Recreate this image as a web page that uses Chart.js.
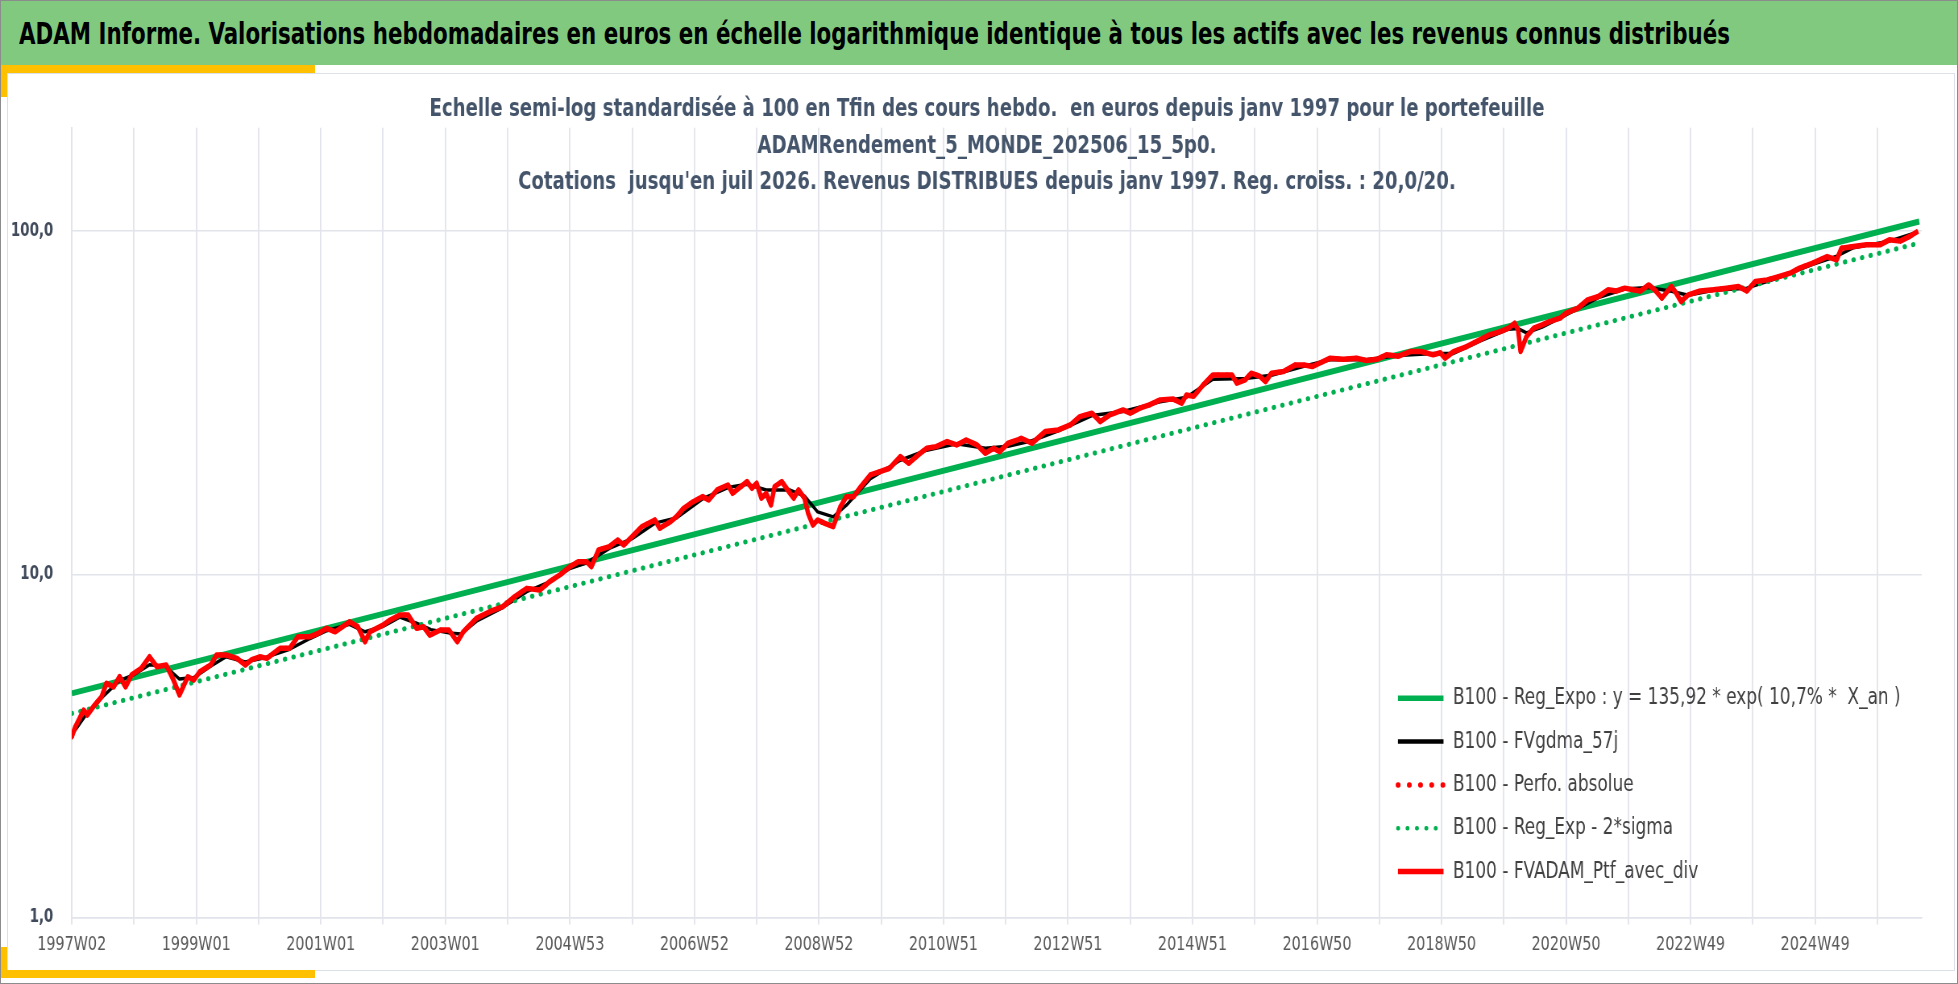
<!DOCTYPE html>
<html>
<head>
<meta charset="utf-8">
<script src="https://cdn.jsdelivr.net/npm/chart.js@4.4.1/dist/chart.umd.min.js"></script>
<style>
html,body{margin:0;padding:0;background:#fff;overflow:hidden;}
#page{position:relative;width:1958px;height:984px;overflow:hidden;background:#fff;}
#frame{position:absolute;left:7px;top:73px;width:1948px;height:898px;border:1.5px solid #DCE0E8;box-sizing:border-box;z-index:1;}
#header{position:absolute;left:0;top:0;width:1958px;height:65px;background:#80C97F;z-index:3;overflow:hidden;}
#headerText{position:absolute;left:19px;top:3px;white-space:nowrap;font-weight:bold;color:#000;transform-origin:0 0;}
.yel{position:absolute;background:#FFC000;z-index:4;}
#outer{position:absolute;left:0;top:0;width:1958px;height:984px;border:1px solid #8C8C8C;box-sizing:border-box;z-index:6;pointer-events:none;}
#cv{position:absolute;left:0;top:0;z-index:2;}
</style>
</head>
<body>
<div id="page">
  <div id="frame"></div>
  <div id="header"><div id="headerText"></div></div>
  <div class="yel" style="left:1px;top:65px;width:314px;height:8px;"></div>
  <div class="yel" style="left:1px;top:65px;width:6px;height:32px;"></div>
  <div class="yel" style="left:0;top:970px;width:315px;height:8px;"></div>
  <div class="yel" style="left:0;top:947px;width:7px;height:31px;"></div>
  <canvas id="cv"></canvas>
  <div id="outer"></div>
</div>
<script>
// ---------- DATA ----------
const headerText = "ADAM Informe. Valorisations hebdomadaires en euros en échelle logarithmique identique à tous les actifs avec les revenus connus distribués";
const titleLines = [
  "Echelle semi-log standardisée à 100 en Tfin des cours hebdo.  en euros depuis janv 1997 pour le portefeuille",
  "ADAMRendement_5_MONDE_202506_15_5p0.",
  "Cotations  jusqu'en juil 2026. Revenus DISTRIBUES depuis janv 1997. Reg. croiss. : 20,0/20."
];
const seriesLabels = [
  "B100 - Reg_Expo : y = 135,92 * exp( 10,7% *  X_an )",
  "B100 - FVgdma_57j",
  "B100 - Perfo. absolue",
  "B100 - Reg_Exp - 2*sigma",
  "B100 - FVADAM_Ptf_avec_div"
];
// category ticks: one label every 104 weeks (week index counted from 1997W02)
const xTickLabels = ["1997W02","1999W01","2001W01","2003W01","2004W53","2006W52","2008W52","2010W51","2012W51","2014W51","2016W50","2018W50","2020W50","2022W49","2024W49"];
const yTickValues = [1, 10, 100];
const yTickLabels = ["1,0", "10,0", "100,0"];

// regression lines (exponential -> straight on the log scale)
const regWeeks = [0, 1543];
const regValues = [4.50, 106.7];
const sigmaValues = [3.93, 92.3];

// portfolio with dividends (weekly index, sampled)
const redWeeks = [0,3,10,13,18,25,29,35,40,45,50,58,65,71,79,85,90,97,102,107,116,121,129,138,145,150,157,163,174,182,189,199,206,213,220,232,239,245,249,260,266,274,281,288,294,299,308,315,322,327,338,349,360,370,380,391,399,408,416,423,430,434,440,449,456,461,468,476,487,491,500,505,511,519,527,532,539,548,552,564,568,572,576,580,584,587,593,600,603,607,612,615,619,623,629,636,642,647,653,658,667,675,683,692,699,707,714,722,731,739,747,756,763,770,775,782,790,793,802,813,824,834,842,852,859,867,878,884,892,900,909,920,927,931,937,945,953,962,969,973,980,985,992,997,1002,1012,1022,1029,1036,1042,1051,1062,1073,1081,1090,1098,1108,1118,1127,1137,1143,1147,1154,1165,1176,1184,1193,1200,1205,1208,1210,1215,1221,1228,1234,1243,1248,1258,1266,1275,1283,1290,1297,1304,1310,1317,1322,1328,1336,1340,1344,1350,1360,1371,1382,1392,1399,1406,1416,1424,1435,1443,1454,1466,1474,1478,1488,1499,1510,1518,1527,1535,1542];
const redValues = [3.36,3.59,4.02,3.89,4.11,4.40,4.81,4.70,5.03,4.70,5.09,5.32,5.75,5.38,5.44,4.92,4.45,5.03,4.92,5.20,5.44,5.82,5.82,5.69,5.44,5.63,5.75,5.69,6.09,6.09,6.58,6.58,6.73,6.96,6.80,7.27,7.03,6.36,6.80,7.11,7.36,7.61,7.61,6.96,7.03,6.65,6.88,6.88,6.36,6.80,7.44,7.78,8.05,8.61,9.10,9.00,9.51,9.98,10.52,10.88,10.88,10.52,11.78,12.04,12.59,12.17,12.87,13.76,14.40,13.62,14.23,14.72,15.57,16.28,16.84,16.47,17.62,18.21,17.22,18.62,17.81,18.42,16.66,17.22,15.92,18.01,18.62,17.22,16.66,17.62,16.66,15.06,13.92,14.40,14.08,13.76,15.74,16.84,16.84,17.81,19.48,19.91,20.37,22.03,21.07,22.28,23.30,23.55,24.36,23.82,24.63,23.82,22.53,23.30,22.77,24.09,24.63,24.92,24.09,26.05,26.35,27.25,28.81,29.47,27.86,29.13,30.13,29.47,30.48,31.17,32.23,32.40,31.51,33.32,33.00,35.64,38.11,38.11,38.11,36.05,36.86,38.55,37.80,36.43,38.55,38.97,40.76,40.76,40.30,41.21,42.63,42.30,42.63,42.00,42.30,43.60,43.20,44.57,44.57,43.60,44.20,42.63,44.57,46.09,48.20,49.86,50.97,52.14,53.90,51.50,44.57,49.30,52.14,53.30,54.50,55.77,57.66,59.65,63.06,64.49,67.44,66.90,68.20,67.44,66.90,69.70,67.44,63.80,68.96,65.96,62.36,65.20,66.90,67.44,68.20,68.96,66.90,71.30,72.10,73.40,75.40,78.00,80.70,84.30,82.50,89.20,90.20,91.20,91.20,94.30,93.50,96.50,100.00];

// smoothed series (FVgdma_57j)
const blackWeeks = [0,13,26,40,52,65,78,90,102,116,129,145,160,182,199,213,232,245,260,274,288,300,315,325,338,360,380,399,416,430,449,468,487,505,527,548,564,580,600,612,623,636,647,667,692,714,739,763,782,802,824,852,878,909,931,953,980,1002,1029,1051,1081,1108,1137,1154,1176,1200,1208,1215,1228,1248,1275,1297,1317,1336,1350,1371,1399,1424,1454,1474,1488,1518,1542];
const blackValues = [3.4,3.95,4.4,4.9,5.1,5.45,5.4,4.95,5.0,5.4,5.75,5.55,5.7,6.05,6.5,6.85,7.15,6.8,7.05,7.5,7.2,6.9,6.75,6.7,7.3,8.0,8.9,9.5,10.4,10.8,11.9,12.7,14.1,14.6,16.6,17.9,18.3,17.6,17.6,16.9,15.2,14.7,15.9,19.0,21.5,23.0,24.0,23.3,23.6,24.5,26.2,29.0,29.8,31.8,32.8,37.0,37.2,38.0,40.4,42.2,42.2,43.4,44.0,44.0,47.8,51.8,52.0,50.5,52.5,57.0,64.0,67.8,68.5,66.8,65.0,67.2,68.2,72.8,80.0,84.5,89.5,93.5,99.5];

// ---------- FONTS / HORIZONTAL SQUEEZE ----------
function hasFont(name){
  const c = document.createElement('canvas').getContext('2d');
  const s = 'mmmmmmmmmmlli WWW 0123456789 abcdefg';
  c.font = '40px monospace'; const w1 = c.measureText(s).width;
  c.font = '40px "' + name + '", monospace'; const w2 = c.measureText(s).width;
  return Math.abs(w1 - w2) > 0.5;
}
const FAMILY = ['Liberation Sans Narrow','DejaVu Sans Condensed','Liberation Sans'].find(hasFont) || 'sans-serif';
const FAM = '"' + FAMILY + '", sans-serif';
const mctx = document.createElement('canvas').getContext('2d');
mctx.font = 'bold 100px ' + FAM;
const capE = mctx.measureText('E').actualBoundingBoxAscent;
const titleSize = 18.3 * 100 / capE;                        // cap height as in the picture
const SX = 1116 / (mctx.measureText(titleLines[0]).width * titleSize / 100); // horizontal squeeze
const X = v => v / SX;                                       // screen px -> canvas px
const W_INT = Math.round(1958 / SX);
function fit(text, weight, target){
  mctx.font = weight + ' 100px ' + FAM;
  return 100 * X(target) / mctx.measureText(text).width;
}
function metrics(weight, size){
  mctx.font = weight + ' ' + size + 'px ' + FAM;
  const m = mctx.measureText('Hxg');
  return {A: m.fontBoundingBoxAscent, D: m.fontBoundingBoxDescent};
}
const headerSize = fit(headerText, 'bold', 1712);
const legendSize = fit(seriesLabels[0], 'normal', 448);
const xTickSize = fit('1997W02', 'normal', 69);
const yTickSize = fit('100,0', 'bold', 42.5);

// header text
const ht = document.getElementById('headerText');
ht.textContent = headerText;
ht.style.fontFamily = FAM;
ht.style.fontSize = headerSize + 'px';
ht.style.lineHeight = headerSize + 'px';
const hm = metrics('bold', headerSize);
ht.style.top = (45 - ((headerSize - (hm.A + hm.D)) / 2 + hm.A)) + 'px';
ht.style.transform = 'scaleX(' + SX + ')';

const cv = document.getElementById('cv');
cv.width = W_INT; cv.height = 984;
cv.style.width = '1958px'; cv.style.height = '984px';

// ---------- LAYOUT CONSTANTS (screen px) ----------
const AREA_LEFT = 71.7, AREA_RIGHT = 1921.8, AREA_TOP = 127.8, AREA_BOTTOM = 917.5;
const TITLE_LH = 36.5;
const tm = metrics('bold', titleSize);
const titleMid = 118 - (tm.A - tm.D) / 2;
const titleTop = titleMid - TITLE_LH / 2;
const titleBottomPad = AREA_TOP - (titleTop + TITLE_LH * titleLines.length);
const legPad = 43.3 - legendSize;
const legBox = X(1453) - X(1398) - legendSize / 2;
const xLabPad = 945 - (AREA_BOTTOM + 7) - 0.6 * xTickSize;

const toPts = (ws, vs) => ws.map((w, i) => ({x: w, y: vs[i]}));

const placer = {
  id: 'placer',
  afterLayout(chart){
    const lg = chart.legend;
    if (lg) {
      const w = lg.width, h = lg.height;
      lg.left = X(1398) - legPad;
      lg.top = 698.3 - legPad - legendSize / 2;
      lg.right = lg.left + w;
      lg.bottom = lg.top + h;
    }
    const tb = chart.titleBlock;
    if (tb) { tb.left = 0; tb.right = 2 * X(987); }
  }
};

const GRID = '#E2E4EC';
const GREEN = '#00B050';

new Chart(cv, {
  type: 'line',
  data: {
    datasets: [
      {label: seriesLabels[0], data: toPts(regWeeks, regValues), borderColor: GREEN, backgroundColor: GREEN, borderWidth: 6, order: 4, legendWidth: 5.5},
      {label: seriesLabels[1], data: toPts(blackWeeks, blackValues), borderColor: '#000000', backgroundColor: '#000000', borderWidth: 3.5, order: 3, legendWidth: 4.5},
      {label: seriesLabels[2], data: toPts(redWeeks, redValues), borderColor: '#FF0000', backgroundColor: '#FF0000', borderWidth: 5, borderDash: [0.5, X(8.5)], borderCapStyle: 'round', order: 2, legendWidth: 5.5, legendDash: [0.5, X(10.8)]},
      {label: seriesLabels[3], data: toPts(regWeeks, sigmaValues), borderColor: GREEN, backgroundColor: GREEN, borderWidth: 5, borderDash: [0.5, X(8.3)], borderCapStyle: 'round', order: 1, legendWidth: 4.5, legendDash: [0.5, X(9)]},
      {label: seriesLabels[4], data: toPts(redWeeks, redValues), borderColor: '#FF0000', backgroundColor: '#FF0000', borderWidth: 5.5, order: 0, legendWidth: 5.5}
    ]
  },
  options: {
    responsive: false,
    animation: false,
    devicePixelRatio: 1,
    elements: {point: {radius: 0, hoverRadius: 0}, line: {tension: 0, borderJoinStyle: 'round'}},
    layout: {padding: {left: 0, right: W_INT - X(AREA_RIGHT), top: 0, bottom: 0}},
    scales: {
      x: {
        type: 'linear', min: 0, max: 1545, bounds: 'data',
        afterFit: s => { s.height = 984 - AREA_BOTTOM; },
        afterBuildTicks: s => { s.ticks = Array.from({length: 30}, (_, i) => ({value: i * 52})); },
        grid: {color: GRID, lineWidth: X(1.5), drawTicks: true, tickLength: 7, tickColor: GRID, tickWidth: X(1.5)},
        border: {color: GRID, width: 1.5},
        ticks: {
          autoSkip: false, maxRotation: 0, minRotation: 0, padding: xLabPad,
          color: '#595959', font: {family: FAM, size: xTickSize},
          callback: v => (v % 104 === 0 ? (xTickLabels[v / 104] || '') : '')
        }
      },
      y: {
        type: 'logarithmic', min: 1, max: 200, bounds: 'data',
        afterFit: s => { s.width = X(AREA_LEFT); },
        afterBuildTicks: s => { s.ticks = yTickValues.map(v => ({value: v})); },
        grid: {color: GRID, lineWidth: 1.5, drawTicks: false},
        border: {color: GRID, width: X(1.5)},
        ticks: {
          padding: X(18.4), color: '#404A5A', font: {family: FAM, size: yTickSize, weight: 'bold'},
          callback: v => { const i = yTickValues.indexOf(v); return i >= 0 ? yTickLabels[i] : ''; }
        }
      }
    },
    plugins: {
      title: {
        display: true, text: titleLines, color: '#44546A',
        font: {family: FAM, size: titleSize, weight: 'bold', lineHeight: TITLE_LH + 'px'},
        padding: {top: titleTop, bottom: titleBottomPad}
      },
      legend: {
        display: true, position: 'chartArea', align: 'start',
        labels: {
          usePointStyle: true, pointStyle: 'line', pointStyleWidth: legBox, boxWidth: legBox,
          padding: legPad, color: '#404040', font: {family: FAM, size: legendSize},
          generateLabels: chart => chart.data.datasets.map((ds, i) => ({
            text: ds.label, fillStyle: ds.borderColor, strokeStyle: ds.borderColor,
            lineWidth: ds.legendWidth, lineDash: ds.legendDash || [], lineCap: ds.legendDash ? 'round' : 'butt',
            pointStyle: 'line', hidden: false, datasetIndex: i, fontColor: '#404040'
          }))
        }
      },
      tooltip: {enabled: false}
    }
  },
  plugins: [placer]
});
</script>
</body>
</html>
